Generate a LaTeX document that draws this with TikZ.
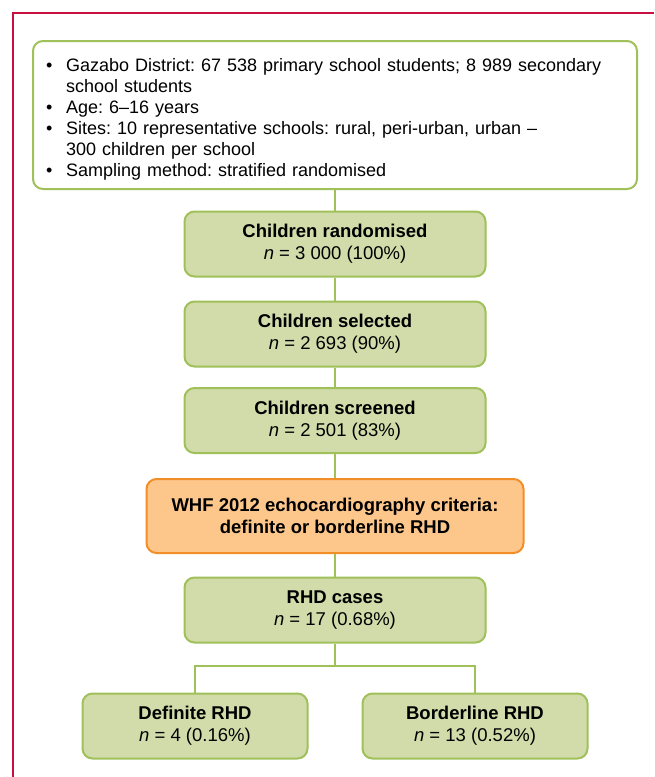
\documentclass[tikz,border=0pt]{standalone}
\usepackage{fontspec}
\setmainfont{Liberation Sans}
\usepackage{enumitem}
\usepackage{tikz}
\usetikzlibrary{positioning}
\usetikzlibrary{calc}
\definecolor{framered}{RGB}{200,16,64}
\definecolor{boxgreen}{RGB}{209,220,170}
\definecolor{linegreen}{RGB}{160,192,90}
\definecolor{boxorange}{RGB}{253,199,140}
\definecolor{lineorange}{RGB}{242,142,40}
\tikzstyle{greenbox}=[draw=linegreen,fill=boxgreen,line width=2pt,rounded corners=10pt,align=center,minimum width=301pt,minimum height=65pt,inner sep=2pt,font=\fontsize{18.5}{22}\selectfont]
\tikzstyle{orangebox}=[greenbox,draw=lineorange,fill=boxorange,minimum width=377pt,minimum height=74pt]
\tikzstyle{connector}=[draw=linegreen,line width=2pt]
\frenchspacing

\begin{document}
\begin{tikzpicture}[x=1pt,y=-1pt]
\useasboundingbox (0,0) rectangle (654,777);
\draw[framered,line width=1.6pt] (13,777) -- (13,13) -- (654,13);
\node [greenbox,fill=white,minimum width=604pt,minimum height=148pt,text width=578pt,align=left,font=\fontsize{18}{21}\selectfont] (pop) at (335,115)
  {\begin{itemize}[nosep,label=\textbullet,align=left,labelindent=0pt,labelwidth=7pt,labelsep=13pt,leftmargin=20pt]
   \item Gazabo District: 67 538 primary school students; 8 989 secondary school students
   \item Age: 6--16 years
   \item Sites: 10 representative schools: rural, peri-urban, urban --\\ 300 children per school
   \item Sampling method: stratified randomised
   \end{itemize}};
\node [greenbox] (rand) at (335,244) {\textbf{Children randomised}\\\textit{n} = 3 000 (100\%)};
\node [greenbox] (sel) at (335,334) {\textbf{Children selected}\\\textit{n} = 2 693 (90\%)};
\node [greenbox] (scr) at (335,420.5) {\textbf{Children screened}\\\textit{n} = 2 501 (83\%)};
\node [orangebox] (whf) at (335,516) {\textbf{WHF 2012 echocardiography criteria:}\\\textbf{definite or borderline RHD}};
\node [greenbox] (rhd) at (335,610) {\textbf{RHD cases}\\\textit{n} = 17 (0.68\%)};
\node [greenbox,minimum width=225pt] (def) at (195,726) {\textbf{Definite RHD}\\\textit{n} = 4 (0.16\%)};
\node [greenbox,minimum width=225pt] (bord) at (475,726) {\textbf{Borderline RHD}\\\textit{n} = 13 (0.52\%)};
\coordinate (fork) at (335,666);
% vertical chain
\draw[connector] (pop.south -| rand) -- (rand);
\draw[connector] (rand) -- (sel);
\draw[connector] (sel) -- (scr);
\draw[connector] (scr) -- (whf);
\draw[connector] (whf) -- (rhd);
\draw[connector] (rhd) -- (fork);
\draw[connector] (def.north) |- (fork) -| (bord.north);
\end{tikzpicture}
\end{document}
